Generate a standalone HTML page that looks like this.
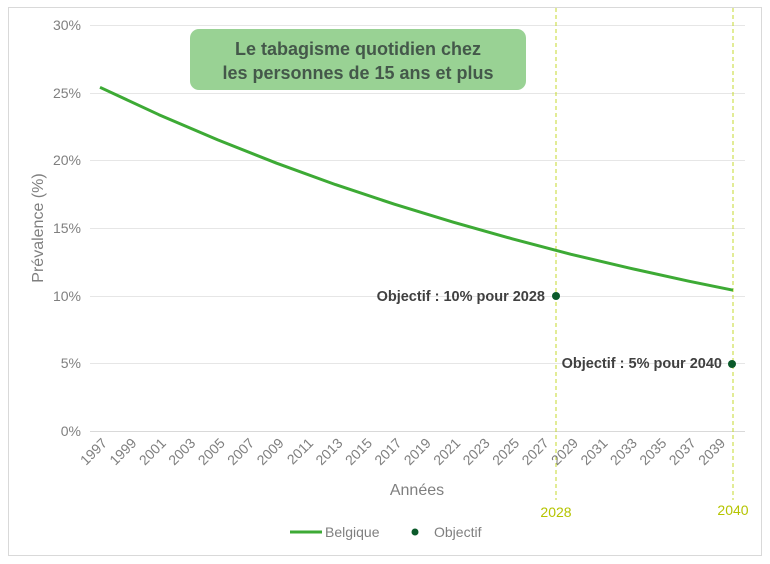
<!DOCTYPE html>
<html><head><meta charset="utf-8"><style>
body{margin:0;background:#fff;}
svg{display:block;font-family:"Liberation Sans",Arial,sans-serif;}
</style></head><body>
<svg width="770" height="564" viewBox="0 0 770 564" xmlns="http://www.w3.org/2000/svg">
<rect x="8.5" y="7.5" width="753" height="548" fill="#fff" stroke="#d9d9d9"/>
<g stroke="#e6e6e6" stroke-width="1">
<line x1="90" x2="745" y1="25.5" y2="25.5"/>
<line x1="90" x2="745" y1="93.5" y2="93.5"/>
<line x1="90" x2="745" y1="160.5" y2="160.5"/>
<line x1="90" x2="745" y1="228.5" y2="228.5"/>
<line x1="90" x2="745" y1="296.5" y2="296.5"/>
<line x1="90" x2="745" y1="363.5" y2="363.5"/>
<line x1="90" x2="745" y1="431.5" y2="431.5" stroke="#d9d9d9"/>
</g>
<g font-size="14" fill="#7f7f7f" text-anchor="end">
<text x="81" y="30">30%</text><text x="81" y="98">25%</text><text x="81" y="165">20%</text>
<text x="81" y="233">15%</text><text x="81" y="301">10%</text><text x="81" y="368">5%</text><text x="81" y="436">0%</text>
</g>
<text transform="translate(43,228) rotate(-90)" font-size="16" fill="#7f7f7f" text-anchor="middle">Prévalence (%)</text>
<text x="417" y="495" font-size="16" fill="#7f7f7f" text-anchor="middle">Années</text>
<g stroke="#c5d92d" stroke-dasharray="4,3" stroke-width="1">
<line x1="556" x2="556" y1="8" y2="500"/>
<line x1="733" x2="733" y1="8" y2="500"/>
</g>
<text x="556" y="517" font-size="14" fill="#b5c400" text-anchor="middle">2028</text>
<text x="733" y="515" font-size="14" fill="#b5c400" text-anchor="middle">2040</text>
<polyline fill="none" stroke="#3daa35" stroke-width="3" stroke-linejoin="round" points="100,87.3 158.9,114.7 217.8,139.9 276.6,163.2 335.5,184.6 394.4,204.2 453.3,222.2 512.2,238.8 571,254.3 629.9,268.2 688.8,281.2 733,290.2"/>
<circle cx="556" cy="296" r="4" fill="#0b5a2a"/>
<circle cx="732" cy="364" r="4" fill="#0b5a2a"/>
<text x="545" y="301" font-size="14.5" font-weight="bold" fill="#404040" text-anchor="end">Objectif : 10% pour 2028</text>
<text x="722" y="368" font-size="14.5" font-weight="bold" fill="#404040" text-anchor="end">Objectif : 5% pour 2040</text>
<rect x="190" y="29" width="336" height="61" rx="9" fill="#99d294"/>
<text x="358" y="55" font-size="18" font-weight="bold" fill="#44584a" text-anchor="middle">Le tabagisme quotidien chez</text>
<text x="358" y="79" font-size="18" font-weight="bold" fill="#44584a" text-anchor="middle">les personnes de 15 ans et plus</text>
<line x1="290" x2="322" y1="532" y2="532" stroke="#3daa35" stroke-width="3"/>
<text x="325" y="537" font-size="14" fill="#7f7f7f">Belgique</text>
<circle cx="415" cy="532" r="3.5" fill="#0b5a2a"/>
<text x="434" y="537" font-size="14" fill="#7f7f7f">Objectif</text>
<g font-size="14" fill="#7f7f7f" text-anchor="end">
<text transform="translate(108,444) rotate(-45)">1997</text>
<text transform="translate(137.4,444) rotate(-45)">1999</text>
<text transform="translate(166.9,444) rotate(-45)">2001</text>
<text transform="translate(196.3,444) rotate(-45)">2003</text>
<text transform="translate(225.8,444) rotate(-45)">2005</text>
<text transform="translate(255.2,444) rotate(-45)">2007</text>
<text transform="translate(284.6,444) rotate(-45)">2009</text>
<text transform="translate(314.1,444) rotate(-45)">2011</text>
<text transform="translate(343.5,444) rotate(-45)">2013</text>
<text transform="translate(373,444) rotate(-45)">2015</text>
<text transform="translate(402.4,444) rotate(-45)">2017</text>
<text transform="translate(431.8,444) rotate(-45)">2019</text>
<text transform="translate(461.3,444) rotate(-45)">2021</text>
<text transform="translate(490.7,444) rotate(-45)">2023</text>
<text transform="translate(520.2,444) rotate(-45)">2025</text>
<text transform="translate(549.6,444) rotate(-45)">2027</text>
<text transform="translate(579,444) rotate(-45)">2029</text>
<text transform="translate(608.5,444) rotate(-45)">2031</text>
<text transform="translate(637.9,444) rotate(-45)">2033</text>
<text transform="translate(667.4,444) rotate(-45)">2035</text>
<text transform="translate(696.8,444) rotate(-45)">2037</text>
<text transform="translate(726.2,444) rotate(-45)">2039</text>
</g>
</svg>
</body></html>
